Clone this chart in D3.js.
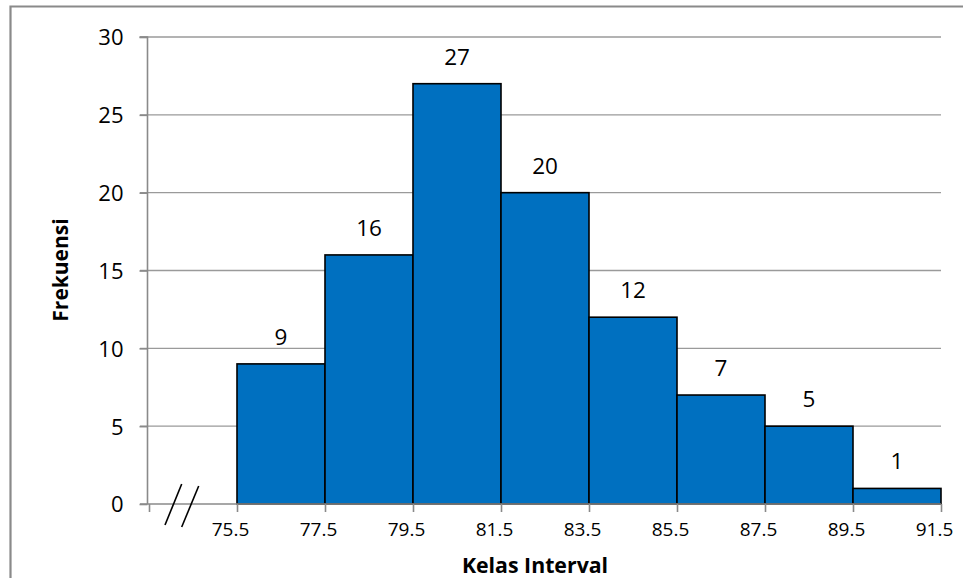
<!DOCTYPE html>
<html><head><meta charset="utf-8">
<script src="https://cdn.jsdelivr.net/npm/d3@7"></script>
<style>
html,body{margin:0;padding:0;background:#fff;}
svg{display:block;}
text{font-family:"Open Sans","Noto Sans",sans-serif;fill:#000;}
</style></head>
<body>
<svg id="c" width="963" height="578"></svg>
<script>
// Class boundaries (tick labels) and frequencies
const boundaries = [75.5, 77.5, 79.5, 81.5, 83.5, 85.5, 87.5, 89.5, 91.5];
const boundaryLabels = ["75.5","77.5","79.5","81.5","83.5","85.5","87.5","89.5","91.5"];
const frequencies = [9, 16, 27, 20, 12, 7, 5, 1];
const yTicks = [0, 5, 10, 15, 20, 25, 30];
const xTitle = "Kelas Interval";
const yTitle = "Frekuensi";
const axisStart = 73.5; // broken-axis slot before the first class

(function(){
const svg = d3.select("#c");
const W = 963, H = 578;
const mLeft = 149, mRight = 941, mTop = 37, mBottom = 504;

const x = d3.scaleLinear().domain([axisStart, boundaries[boundaries.length-1]]).range([mLeft, mRight]);
const y = d3.scaleLinear().domain([0, 30]).range([mBottom, mTop]);

// outer border (top and left visible)
svg.append("path").attr("d", `M10.5,${H} L10.5,6.5 L${W},6.5`)
  .attr("fill","none").attr("stroke","#8a8a8a").attr("stroke-width",2.2);

// gridlines
svg.append("g").selectAll("line").data(yTicks.filter(d=>d>0)).join("line")
  .attr("x1", 140).attr("x2", mRight).attr("y1", d=>y(d)).attr("y2", d=>y(d))
  .attr("stroke","#9a9a9a").attr("stroke-width",1.4);

// y axis
const yAxis = d3.axisLeft(y).tickValues(yTicks).tickSize(8).tickPadding(16).tickFormat(d3.format("d"));
const gy = svg.append("g").attr("transform",`translate(${mLeft-1.5},0)`).call(yAxis);
gy.select(".domain").attr("stroke","#8a8a8a").attr("stroke-width",1.6).attr("d",`M-8,${y(30)}H0V${mBottom}`);
gy.selectAll(".tick line").attr("stroke","#8a8a8a").attr("stroke-width",1.6);
gy.selectAll(".tick text").style("font-size","22px").attr("dy","0.36em");

// bars
svg.append("g").selectAll("rect").data(frequencies).join("rect")
  .attr("x", (d,i)=>x(boundaries[i]))
  .attr("width", (d,i)=>x(boundaries[i+1]) - x(boundaries[i]))
  .attr("y", d=>y(d))
  .attr("height", d=>mBottom - y(d))
  .attr("fill","#0070C0").attr("stroke","#000").attr("stroke-width",1.6);

// x axis
const xAxis = d3.axisBottom(x).tickValues([axisStart].concat(boundaries)).tickSize(8).tickPadding(11)
  .tickFormat(d => { const i = boundaries.indexOf(d); return i >= 0 ? boundaryLabels[i] : ""; });
const gx = svg.append("g").attr("transform",`translate(0,${mBottom})`).call(xAxis);
gx.select(".domain").attr("stroke","#8a8a8a").attr("stroke-width",1.6).attr("d",`M140,0H${mRight}`);
gx.selectAll(".tick line").attr("stroke","#8a8a8a").attr("stroke-width",1.6);
gx.selectAll(".tick text").style("font-size","19px").attr("dx","-7");

// axis break marks
const brk = svg.append("g").attr("stroke","#000").attr("stroke-width",1.6);
[[181.7,484,165,525],[198.7,486,181.7,527]].forEach(p=>{
  brk.append("line").attr("x1",p[0]).attr("y1",p[1]).attr("x2",p[2]).attr("y2",p[3]);
});

// data labels
svg.append("g").selectAll("text").data(frequencies).join("text")
  .attr("x",(d,i)=>(x(boundaries[i])+x(boundaries[i+1]))/2)
  .attr("y", d=>y(d)-19)
  .attr("text-anchor","middle").style("font-size","22.5px").text(d=>d);

// titles
svg.append("text").attr("x",535).attr("y",573).attr("text-anchor","middle")
  .style("font-size","21.3px").style("font-weight","bold").text(xTitle);
svg.append("text").attr("transform","translate(68,270) rotate(-90)").attr("text-anchor","middle")
  .style("font-size","21px").style("font-weight","bold").text(yTitle);
})();
</script>
</body></html>
